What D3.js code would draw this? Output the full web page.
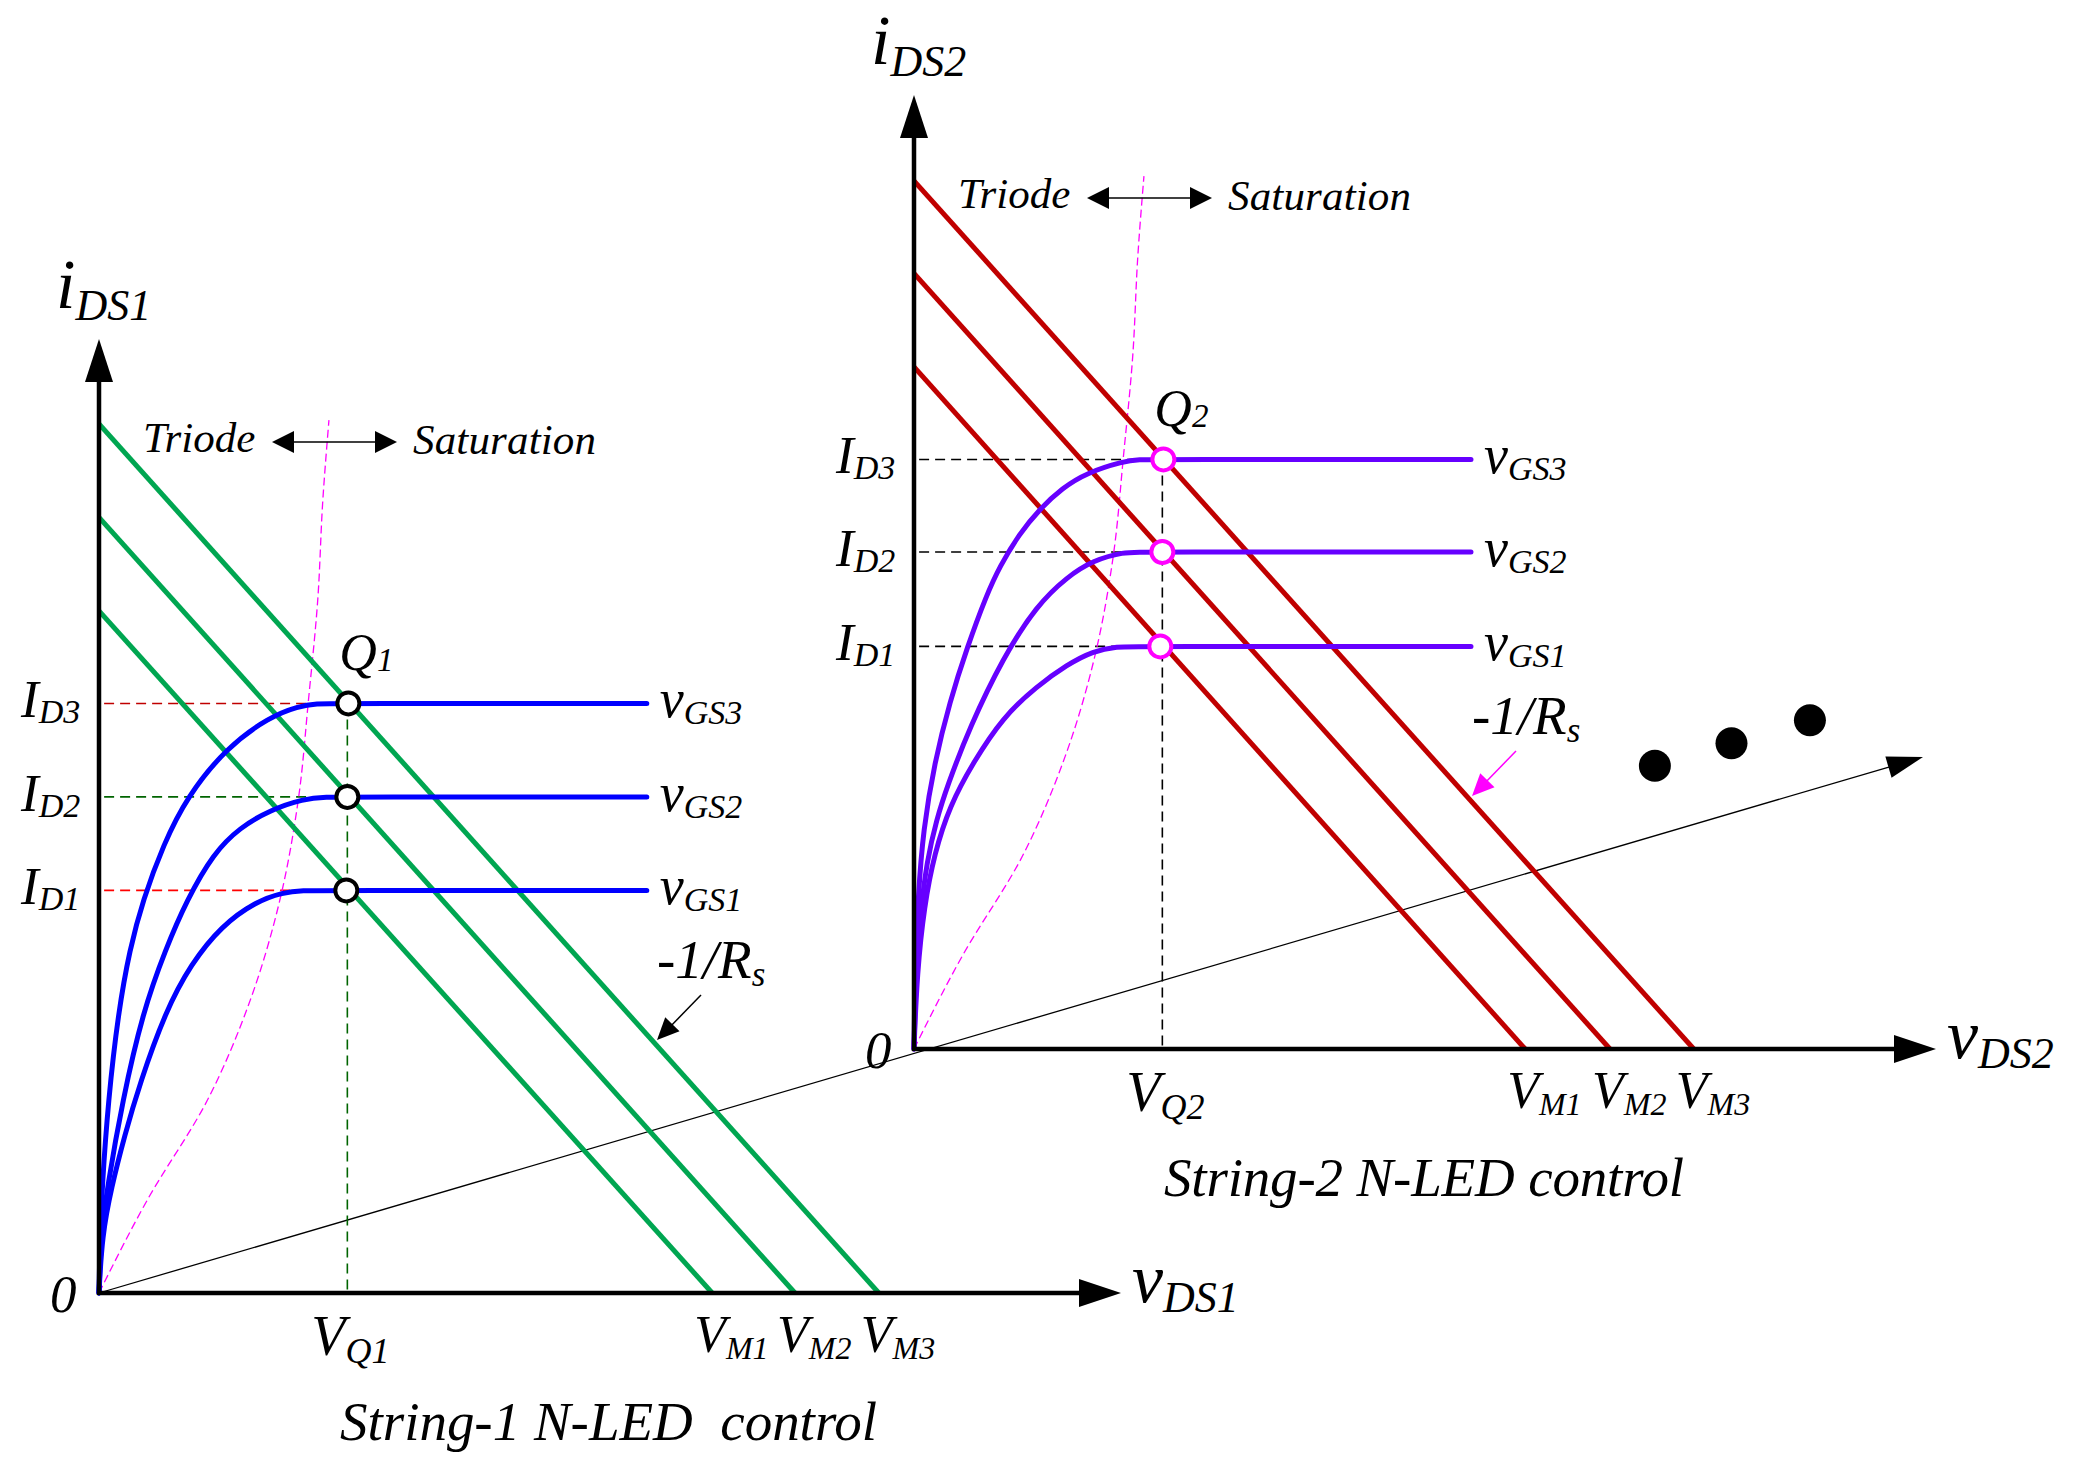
<!DOCTYPE html>
<html><head><meta charset="utf-8">
<script src="https://cdn.jsdelivr.net/npm/d3@7"></script>
<style>
body{margin:0;background:#fff}
text{font-family:"Liberation Serif","Times New Roman",Times,serif;font-style:italic;fill:#000;white-space:pre}
</style>
</head><body><svg id="c" width="2079" height="1477"></svg>
<script>
// ---------------- data (arbitrary units 0..100) ----------------
const levelNames = ["1", "2", "3"];
// String 1
const s1Intercepts = [71.5, 81.3, 91.1];   // load line i-axis intercepts
const s1VM = [60.0, 68.1, 76.3];           // V_M1..3
const s1ID = [42.2, 52.0, 61.8];           // I_D1..3
const s1QV = [24.2, 24.3, 24.4];           // Q point voltages
const s1PlateauEnd = 53.6;
const s1CurveGS1 = [[0,0],[0.3,6],[1.2,11],[2.5,16.5],[4,22],[6.5,29.5],[9,34.5],[12,38.5],[15.3,41],[18,42],[20,42.2]];
const s1CurveGS2 = [[0,0],[0.2,6],[0.8,11],[2.3,20.2],[4.3,29.5],[6.5,36],[8.6,41.2],[11.2,46.1],[13.8,48.8],[16.7,50.6],[20,51.8],[22.3,52.0]];
const s1CurveGS3 = [[0,0],[0.1,6],[0.3,11],[0.9,20.2],[1.9,29.5],[3,36],[4.3,41.2],[6.3,47],[8.6,52.0],[12.5,57.2],[16.7,60.4],[19.5,61.5],[21.3,61.8]];
// String 2
const s2Intercepts = [71.5, 81.3, 91.0];
const s2VM = [59.8, 68.1, 76.3];
const s2ID = [42.2, 52.1, 61.8];
const s2QV = [24.1, 24.3, 24.4];
const s2PlateauEnd = 54.5;
const s2CurveGS1 = [[0,0],[0.3,8],[1,15],[2,20.5],[3.5,25.5],[5.77,30],[8.71,34.8],[12,38],[15,40.3],[17.5,41.7],[19.9,42.2]];
const s2CurveGS2 = [[0,0],[0.2,8],[0.6,14],[1.27,19.8],[2.2,24],[3.23,27.5],[5.48,33.8],[8.71,41],[12,46.5],[15,49.5],[17.5,51.2],[20.5,52.1]];
const s2CurveGS3 = [[0,0],[0.1,8],[0.4,16],[0.9,23],[2.0,30],[3.5,36.4],[5.2,42.1],[7.1,47.6],[8.4,50.6],[10.3,54],[12.3,56.6],[14.5,58.8],[16.9,60.4],[20.5,61.6],[22,61.8]];
const vQ = 24.3;
// triode / saturation boundary (dashed magenta)
const boundary = [[0,0],[4.7,9.7],[10.6,20.2],[14.8,30.7],[17.7,41.2],[19.5,51.7],[20.5,62.2],[21.4,72.6],[21.9,83.1],[22.5,91.5]];
// ellipsis dots positions along the depth axis (fraction of its length)
const dotT = [0.853, 0.895, 0.938];

// ---------------- drawing ----------------
const svg = d3.select("#c");
svg.append("rect").attr("width",2079).attr("height",1477).attr("fill","#fff");

function tri(g, tip, dir, len, hw, fill){
  const [tx,ty]=tip,[dx,dy]=dir; const px=-dy, py=dx;
  const bx=tx-dx*len, by=ty-dy*len;
  g.append("path").attr("d",`M${tx},${ty}L${bx+px*hw},${by+py*hw}L${bx-px*hw},${by-py*hw}Z`).attr("fill",fill);
}
// label with optional subscript, as a single text element
function lab(g, x, y, main, size, sub, subsize, dx, dy){
  const t = g.append("text").attr("x",x).attr("y",y).attr("font-size",size);
  t.append("tspan").text(main);
  if(sub) t.append("tspan").attr("font-size",subsize).attr("dx",dx).attr("dy",dy).text(sub);
  return t;
}

// diagonal "depth" axis through both origins
const diagX = d3.scaleLinear().domain([0,1]).range([99,1923]);
const diagY = d3.scaleLinear().domain([0,1]).range([1293,757]);
svg.append("line").attr("x1",diagX(0)).attr("y1",diagY(0)).attr("x2",diagX(0.985)).attr("y2",diagY(0.985))
  .attr("stroke","#000").attr("stroke-width",1.3);
{
  const dx=diagX(1)-diagX(0), dy=diagY(1)-diagY(0), L=Math.hypot(dx,dy);
  tri(svg,[diagX(1),diagY(1)],[dx/L,dy/L],36,11,"#000");
}
svg.selectAll("circle.dot").data(dotT).enter().append("circle").attr("class","dot")
  .attr("cx",d=>diagX(d)).attr("cy",d=>diagY(d)-70).attr("r",16).attr("fill","#000");

function drawChart(cfg){
  const g = svg.append("g");
  const x = d3.scaleLinear().domain([0,100]).range([cfg.ox, cfg.ox+1022]);
  const y = d3.scaleLinear().domain([0,100]).range([cfg.oy, cfg.oy-954]);

  // guide dashed lines
  cfg.ID.forEach((id,i)=>{
    g.append("line").attr("x1",x(0.5)).attr("x2",x(cfg.QV[i])).attr("y1",y(id)).attr("y2",y(id))
      .attr("stroke",cfg.hColors[i]).attr("stroke-width",1.6).attr("stroke-dasharray","10,6");
  });
  g.append("line").attr("x1",x(vQ)).attr("x2",x(vQ)).attr("y1",y(cfg.ID[2])).attr("y2",y(0))
    .attr("stroke",cfg.vColor).attr("stroke-width",1.6).attr("stroke-dasharray","10,6");

  // boundary
  g.append("path").attr("d",d3.line().x(d=>x(d[0])).y(d=>y(d[1])).curve(d3.curveMonotoneY)(boundary))
    .attr("fill","none").attr("stroke","#FF00FF").attr("stroke-width",1.3).attr("stroke-dasharray","8,4");

  // load lines
  const lin = d3.line().x(d=>x(d[0])).y(d=>y(d[1]));
  cfg.intercepts.forEach((b,i)=>{
    g.append("path").attr("d",lin([[0,b],[cfg.VM[i],0]])).attr("stroke",cfg.loadColor)
      .attr("stroke-width",5).attr("fill","none");
  });

  // device curves (smooth B-spline through the read points, then the flat saturation part)
  cfg.curves.forEach((c,i)=>{
    const last = c[c.length-1];
    const pts = c.concat([[last[0]+2, cfg.ID[i]], [cfg.plateauEnd, cfg.ID[i]]]);
    g.append("path").attr("d",d3.line().x(d=>x(d[0])).y(d=>y(d[1])).curve(d3.curveBasis)(pts))
      .attr("fill","none").attr("stroke",cfg.curveColor).attr("stroke-width",5).attr("stroke-linecap","round");
  });

  // axes
  g.append("line").attr("x1",x(0)).attr("y1",y(0)+2).attr("x2",x(0)).attr("y2",y(95.5))
    .attr("stroke","#000").attr("stroke-width",4.5);
  tri(g,[x(0),y(100)],[0,-1],43,14,"#000");
  g.append("line").attr("x1",x(0)-2).attr("y1",y(0)).attr("x2",x(96)).attr("y2",y(0))
    .attr("stroke","#000").attr("stroke-width",4.5);
  tri(g,[x(100),y(0)],[1,0],42,14,"#000");

  // Q points
  cfg.ID.forEach((id,i)=>{
    g.append("circle").attr("cx",x(cfg.QV[i])).attr("cy",y(id)).attr("r",11)
      .attr("fill","#fff").attr("stroke",cfg.qColor).attr("stroke-width",4);
  });

  // region labels
  const ty = y(100);
  g.append("text").attr("x",x(0)+44).attr("y",ty+113).attr("font-size",43).text("Triode");
  g.append("text").attr("x",x(0)+314).attr("y",ty+115).attr("font-size",43).attr("textLength",183).text("Saturation");
  g.append("line").attr("x1",x(0)+190).attr("x2",x(0)+281).attr("y1",ty+103).attr("y2",ty+103)
    .attr("stroke","#000").attr("stroke-width",1.5);
  tri(g,[x(0)+173,ty+103],[-1,0],22,11,"#000");
  tri(g,[x(0)+298,ty+103],[1,0],22,11,"#000");

  // axis labels
  lab(g, x(0)-43, y(100)-31, "i", 70, "DS"+cfg.n, 44, 0, 12);
  lab(g, x(100)+11, y(0)+9, "v", 70, "DS"+cfg.n, 44, 0, 10);
  lab(g, x(0)-49, y(0)+19, "0", 53);
  lab(g, x(vQ)-36, y(0)+62, "V", 56, "Q"+cfg.n, 36, 0, 8);
  cfg.VM.forEach((vm,i)=>{
    lab(g, x(vm)-18, y(0)+59, "V", 52, "M"+levelNames[i], 32, 0, 7);
  });
  cfg.ID.forEach((id,i)=>{
    lab(g, x(0)-78, y(id)+14, "I", 53, "D"+levelNames[i], 34, 0, 6);
    lab(g, x(cfg.plateauEnd)+13, y(id)+14, "v", 54, "GS"+levelNames[i], 34, 0, 7);
  });
  lab(g, x(cfg.QV[2])-9, y(cfg.ID[2])-33, "Q", 52, cfg.n, 33, 0, 1);

  // -1/Rs
  const rx = x(0)+558, ry = y(0)-315;
  lab(g, rx, ry, "-1/R", 55, "s", 35, 0, 8);
  g.append("line").attr("x1",rx+44).attr("y1",ry+17).attr("x2",rx+10).attr("y2",ry+52)
    .attr("stroke",cfg.rsColor).attr("stroke-width",1.5);
  { const dx=-44, dy=45, L=Math.hypot(dx,dy);
    tri(g,[rx,ry+62],[dx/L,dy/L],22,10,cfg.rsColor); }

  // caption
  g.append("text").attr("x",cfg.capX).attr("y",y(0)+147).attr("font-size",55)
    .attr("textLength",cfg.capW).text(cfg.caption);
}

drawChart({n:"1", ox:99, oy:1293, intercepts:s1Intercepts, VM:s1VM, ID:s1ID, QV:s1QV, plateauEnd:s1PlateauEnd,
  curves:[s1CurveGS1,s1CurveGS2,s1CurveGS3],
  loadColor:"#00A651", curveColor:"#0000FF", qColor:"#000", hColors:["#FF0000","#006400","#C00000"], vColor:"#006400",
  rsColor:"#000", caption:"String-1 N-LED  control", capX:340, capW:537});
drawChart({n:"2", ox:914, oy:1049, intercepts:s2Intercepts, VM:s2VM, ID:s2ID, QV:s2QV, plateauEnd:s2PlateauEnd,
  curves:[s2CurveGS1,s2CurveGS2,s2CurveGS3],
  loadColor:"#C00000", curveColor:"#6600FF", qColor:"#FF00FF", hColors:["#000","#000","#000"], vColor:"#000",
  rsColor:"#FF00FF", caption:"String-2 N-LED control", capX:1164, capW:520});
</script>
</body></html>
